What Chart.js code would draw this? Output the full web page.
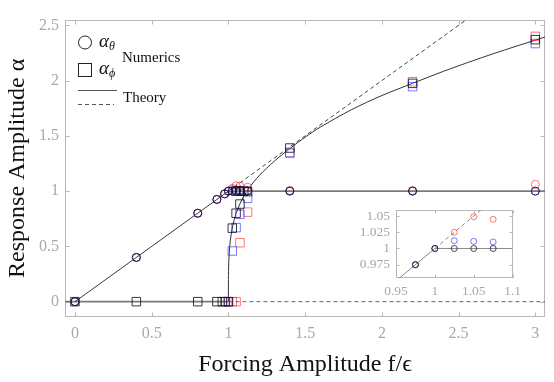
<!DOCTYPE html>
<html><head><meta charset="utf-8">
<script src="https://cdn.jsdelivr.net/npm/chart.js@4.4.0/dist/chart.umd.min.js"></script>
<style>
html,body{margin:0;padding:0;background:#fff;}
#wrap{position:relative;width:554px;height:382px;overflow:hidden;}
#main{position:absolute;left:0;top:0;}
#inset{position:absolute;left:338px;top:196px;}
</style></head><body>
<div id="wrap"><canvas id="main" width="554" height="382"></canvas><canvas id="inset" width="188" height="106"></canvas></div>
<script>
// ---- tick labels ----
const xTicks = [0, 0.5, 1, 1.5, 2, 2.5, 3];
const xTickLabels = ['0', '0.5', '1', '1.5', '2', '2.5', '3'];
const yTicks = [0, 0.5, 1, 1.5, 2, 2.5];
const yTickLabels = ['0', '0.5', '1', '1.5', '2', '2.5'];
const insetXTicks = [0.95, 1, 1.05, 1.1];
const insetXTickLabels = ['0.95', '1', '1.05', '1.1'];
const insetYTicks = [0.975, 1, 1.025, 1.05];
const insetYTickLabels = ['0.975', '1', '1.025', '1.05'];

// ---- numerics: alpha_theta (circles) ----
const thetaX     = [0, 0.4, 0.8, 0.925, 0.975, 1, 1.025, 1.05, 1.075, 1.125, 1.4, 2.2, 3];
const thetaBlack = [0, 0.4, 0.8, 0.925, 0.975, 1, 1, 1, 1, 1, 1, 1, 1];
const thetaBlue  = [0, 0.4, 0.8, 0.925, 0.975, 1, 1.012, 1.011, 1.010, 1.006, 1.0, 1.0, 1.0];
const thetaRed   = [0, 0.4, 0.8, 0.925, 0.975, 1, 1.025, 1.049, 1.045, 1.035, 1.006, 1.005, 1.061];

// ---- numerics: alpha_phi (squares) ----
const phiBlackX = [0, 0.4, 0.8, 0.925, 0.96, 0.98, 1.0, 1.025, 1.05, 1.075, 1.125, 1.4, 2.2, 3];
const phiBlackY = [0, 0, 0, 0, 0, 0, 0, 0.665, 0.80, 0.883, 0.995, 1.39, 1.975, 2.37];
const phiBlackTopX = [1.05, 1.075, 1.1];
const phiBlackTopY = [1.0, 1.0, 1.0];
const phiBlueX = [1.0, 1.025, 1.05, 1.075, 1.125, 1.4, 2.2, 3];
const phiBlueY = [0, 0.458, 0.67, 0.79, 0.935, 1.35, 1.945, 2.335];
const phiRedX = [1.025, 1.05, 1.075, 1.125, 1.4, 2.2, 3];
const phiRedY = [0, 0, 0.533, 0.81, 1.342, 1.99, 2.40];

// ---- theory ----
const diagX = [0, 1], diagY = [0, 1];
const plateauX = [1, 3.2], plateauY = [1, 1];
const zeroX = [-0.2, 1], zeroY = [0, 0];
const zeroDashX = [1, 3.2], zeroDashY = [0, 0];
const dashX = [1, 2.7], dashY = [1, 2.7];
const curveX = [1.0, 1.0, 1.002, 1.006, 1.012, 1.025, 1.05, 1.075, 1.1, 1.13, 1.2, 1.3, 1.4, 1.5, 1.6, 1.8, 2.0, 2.2, 2.4, 2.6, 2.8, 3.0, 3.1];
const curveY = [0, 0.2, 0.35, 0.45, 0.55, 0.665, 0.8, 0.885, 0.955, 1.02, 1.14, 1.272, 1.385, 1.488, 1.58, 1.735, 1.865, 1.975, 2.083, 2.183, 2.277, 2.366, 2.41];

const pts = (xs, ys) => xs.map((x, i) => ({x: x, y: ys[i]}));
const SERIF = '"Liberation Serif", "DejaVu Serif", serif';
const BLACK = 'rgba(15,10,35,0.82)';
const BLUE = 'rgba(40,40,255,0.62)';
const RED = 'rgba(255,30,30,0.62)';

function lineDs(xs, ys, color, width, dash, tension) {
  return {data: pts(xs, ys), showLine: true, pointRadius: 0, borderColor: color, borderWidth: width,
    borderDash: dash || [], tension: tension || 0, fill: false, clip: 0, order: 10};
}
function markDs(xs, ys, color, style, r, order) {
  return {data: pts(xs, ys), showLine: false, pointStyle: style, pointRadius: r, pointBorderWidth: 1,
    pointBorderColor: color, pointBackgroundColor: 'rgba(0,0,0,0)', borderColor: color,
    backgroundColor: 'rgba(0,0,0,0)', order: order, clip: 2};
}

function framePlugin(color, tickLen, xt, yt) {
  return {
    id: 'frame',
    beforeDatasetsDraw(chart) {
      const {ctx, chartArea: a, scales: {x, y}} = chart;
      ctx.save();
      ctx.strokeStyle = color; ctx.lineWidth = 1;
      const L = Math.round(a.left) + 0.5, R = Math.round(a.right) - 0.5;
      const T = Math.round(a.top) + 0.5, B = Math.round(a.bottom) - 0.5;
      ctx.strokeRect(L, T, R - L, B - T);
      ctx.beginPath();
      xt.forEach(v => { const px = Math.round(x.getPixelForValue(v)) + 0.5;
        ctx.moveTo(px, B); ctx.lineTo(px, B - tickLen); ctx.moveTo(px, T); ctx.lineTo(px, T + tickLen); });
      yt.forEach(v => { const py = Math.round(y.getPixelForValue(v)) + 0.5;
        ctx.moveTo(L, py); ctx.lineTo(L + tickLen, py); ctx.moveTo(R, py); ctx.lineTo(R - tickLen, py); });
      ctx.stroke();
      ctx.restore();
    }
  };
}

const legendPlugin = {
  id: 'customLegend',
  afterDraw(chart) {
    const ctx = chart.ctx;
    ctx.save();
    ctx.strokeStyle = '#222'; ctx.lineWidth = 1; ctx.fillStyle = '#111';
    ctx.beginPath(); ctx.arc(85, 42.5, 6.5, 0, Math.PI * 2); ctx.stroke();
    ctx.strokeRect(78.5, 63.5, 13, 13);
    ctx.textBaseline = 'alphabetic'; ctx.textAlign = 'left';
    ctx.font = 'italic 19px ' + SERIF;
    ctx.fillText('α', 99, 47);
    let w = ctx.measureText('α').width;
    ctx.font = 'italic 12px ' + SERIF;
    ctx.fillText('θ', 99 + w, 50);
    ctx.font = 'italic 19px ' + SERIF;
    ctx.fillText('α', 99, 74);
    w = ctx.measureText('α').width;
    ctx.font = 'italic 12px ' + SERIF;
    ctx.fillText('ϕ', 99 + w, 77);
    ctx.font = '15px ' + SERIF;
    ctx.fillText('Numerics', 122, 61.5);
    ctx.fillText('Theory', 123, 102);
    ctx.strokeStyle = '#555';
    ctx.beginPath(); ctx.moveTo(78, 90.5); ctx.lineTo(117, 90.5); ctx.stroke();
    ctx.setLineDash([4, 3]);
    ctx.beginPath(); ctx.moveTo(78, 104.5); ctx.lineTo(114, 104.5); ctx.stroke();
    ctx.restore();
  }
};

function theoryDatasets() {
  return [
    lineDs(diagX, diagY, '#3a3a3a', 1),
    lineDs(plateauX, plateauY, '#7a7a7a', 1.6),
    lineDs(zeroX, zeroY, '#7a7a7a', 1.6),
    lineDs(zeroDashX, zeroDashY, '#666', 1, [4, 3]),
    lineDs(dashX, dashY, '#444', 1, [4, 3]),
    lineDs(curveX, curveY, '#333', 1, [], 0.3)
  ];
}

new Chart(document.getElementById('main'), {
  type: 'scatter',
  data: {datasets: [
    ...theoryDatasets(),
    markDs(thetaX, thetaRed, RED, 'circle', 4, 3),
    markDs(thetaX, thetaBlue, BLUE, 'circle', 4, 2),
    markDs(thetaX, thetaBlack, BLACK, 'circle', 4, 1),
    markDs(phiRedX, phiRedY, RED, 'rect', 6, 3),
    markDs(phiBlueX, phiBlueY, BLUE, 'rect', 6, 2),
    markDs(phiBlackX, phiBlackY, BLACK, 'rect', 6, 1),
    markDs(phiBlackTopX, phiBlackTopY, BLACK, 'rect', 6, 1)
  ]},
  options: {
    responsive: false, animation: false, events: [],
    layout: {padding: {top: 20, right: 9, left: 0, bottom: 0}},
    plugins: {legend: {display: false}, tooltip: {enabled: false}},
    scales: {
      x: {type: 'linear', min: -0.065, max: 3.063,
        afterFit: s => { s.height = 65.3; },
        afterBuildTicks: s => { s.ticks = xTicks.map(v => ({value: v})); },
        grid: {display: false, drawTicks: false}, border: {display: false},
        ticks: {color: '#a8a8a8', padding: 7, maxRotation: 0, autoSkip: false,
          font: {family: SERIF, size: 16}, callback: (v, i) => xTickLabels[i]},
        title: {display: true, text: 'Forcing Amplitude f/ϵ', color: '#111',
          font: {family: SERIF, size: 24}, padding: {top: 0, bottom: 3}}},
      y: {type: 'linear', min: -0.136, max: 2.548,
        afterFit: s => { s.width = 65; },
        afterBuildTicks: s => { s.ticks = yTicks.map(v => ({value: v})); },
        grid: {display: false, drawTicks: false}, border: {display: false},
        ticks: {color: '#a8a8a8', padding: 6, autoSkip: false,
          font: {family: SERIF, size: 16}, callback: (v, i) => yTickLabels[i]},
        title: {display: true, text: 'Response Amplitude α', color: '#111',
          font: {family: SERIF, size: 24}, padding: {top: 3, bottom: 0}}}
    }
  },
  plugins: [framePlugin('#b8b8b8', 4, xTicks, yTicks), legendPlugin]
});

new Chart(document.getElementById('inset'), {
  type: 'scatter',
  data: {datasets: [
    ...theoryDatasets().map(d => Object.assign(d, {borderColor: '#8a8a8a', borderWidth: 1})),
    markDs(thetaX, thetaRed, RED, 'circle', 3, 3),
    markDs(thetaX, thetaBlue, BLUE, 'circle', 3, 2),
    markDs(thetaX, thetaBlack, 'rgba(40,40,40,0.85)', 'circle', 3, 1)
  ]},
  options: {
    responsive: false, animation: false, events: [],
    layout: {padding: {top: 6.7, right: 6.7, left: 0, bottom: 0}},
    plugins: {legend: {display: false}, tooltip: {enabled: false}},
    scales: {
      x: {type: 'linear', min: 0.95, max: 1.1,
        afterFit: s => { s.height = 23.7; },
        afterBuildTicks: s => { s.ticks = insetXTicks.map(v => ({value: v})); },
        grid: {display: false, drawTicks: false}, border: {display: false},
        ticks: {color: '#a8a8a8', padding: 5, maxRotation: 0, autoSkip: false,
          font: {family: SERIF, size: 13.5}, callback: (v, i) => insetXTickLabels[i]}},
      y: {type: 'linear', min: 0.954, max: 1.0592,
        afterFit: s => { s.width = 58; },
        afterBuildTicks: s => { s.ticks = insetYTicks.map(v => ({value: v})); },
        grid: {display: false, drawTicks: false}, border: {display: false},
        ticks: {color: '#a8a8a8', padding: 6, autoSkip: false,
          font: {family: SERIF, size: 13.5}, callback: (v, i) => insetYTickLabels[i]}}
    }
  },
  plugins: [framePlugin('#b8b8b8', 3, insetXTicks, insetYTicks)]
});
</script>
</body></html>
